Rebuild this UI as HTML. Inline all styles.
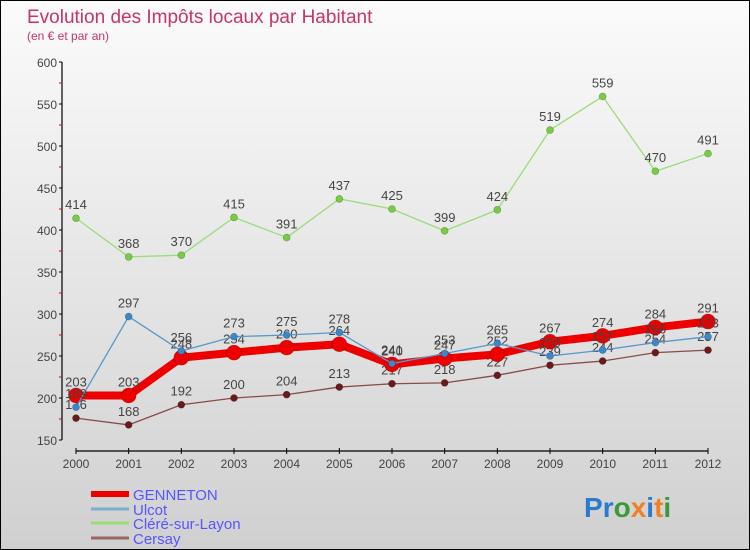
<!DOCTYPE html>
<html><head><meta charset="utf-8"><style>
html,body{margin:0;padding:0}
body{width:750px;height:550px;overflow:hidden;font-family:"Liberation Sans",sans-serif}
#wrap{position:relative;width:748px;height:548px;border:1px solid #000;background:linear-gradient(#fbfbfb,#d0d0d0)}
</style></head><body>
<div id="wrap">
<svg id="chart" width="748" height="548" style="position:absolute;left:0;top:0">
<text x="26" y="22" font-size="19" fill="#c8336a">Evolution des Impôts locaux par Habitant</text>
<text x="26" y="39" font-size="12" fill="#c8336a">(en € et par an)</text>
<g id="axes"></g><g id="series"></g>
<g id="legend" font-size="15" fill="#5555ff"></g>
<text x="583" y="516" font-size="28" font-weight="bold" font-family="Liberation Sans, sans-serif"><tspan fill="#2a7bd0">P</tspan><tspan fill="#2a7bd0">r</tspan><tspan fill="#3a9a3a">o</tspan><tspan fill="#f08020">x</tspan><tspan fill="#2a7bd0">i</tspan><tspan fill="#f08020">t</tspan><tspan fill="#3a9a3a">i</tspan></text>
</svg>
</div>
<script>
const years=[2000,2001,2002,2003,2004,2005,2006,2007,2008,2009,2010,2011,2012];
const genneton=[203,203,248,254,260,264,240,247,252,267,274,284,291];
const ulcot=[189,297,256,273,275,278,241,253,265,250,257,266,273];
const clere=[414,368,370,415,391,437,425,399,424,519,559,470,491];
const cersay=[176,168,192,200,204,213,217,218,227,239,244,254,257];
const yTicks=[150,200,250,300,350,400,450,500,550,600];
const NS="http://www.w3.org/2000/svg";
function X(i){return 75+i*(707-75)/(years.length-1);}
function Y(v){return 439-(v-150)*(439-61)/450;}
function mk(t,a,p){const e=document.createElementNS(NS,t);for(const k in a)e.setAttribute(k,a[k]);p.appendChild(e);return e;}
const ax=document.getElementById('axes');
let l=mk('line',{x1:61,y1:61,x2:61,y2:439,stroke:'#000','stroke-width':1.2},ax);


yTicks.forEach((v,i)=>{
 mk('line',{x1:58,y1:Y(v),x2:61,y2:Y(v),stroke:'#000'},ax);
 if(i<yTicks.length-1) mk('line',{x1:58,y1:Y(v+25),x2:61,y2:Y(v+25),stroke:'#e00'},ax);
 const t=mk('text',{x:56,y:Y(v)+5,'text-anchor':'end','font-size':12,fill:'#444'},ax);t.textContent=v;
 
 
});
l=mk('line',{x1:75,y1:450,x2:707,y2:450,stroke:'#000','stroke-width':1.2},ax);


years.forEach((y,i)=>{
 mk('line',{x1:X(i),y1:447,x2:X(i),y2:453,stroke:'#000'},ax);
 const t=mk('text',{x:X(i),y:467,'text-anchor':'middle','font-size':12,fill:'#444'},ax);t.textContent=y;
 
 
});
const S=document.getElementById('series');
function series(data,color,w,r,name,dot){
 const g=mk('g',{},S);
 
 
 mk('polyline',{points:data.map((v,i)=>X(i)+','+Y(v)).join(' '),fill:'none',stroke:color,'stroke-width':w,'stroke-linejoin':'round'},g);
 data.forEach((v,i)=>{
  const c=mk('circle',{cx:X(i),cy:Y(v),r:r,fill:dot,stroke:'rgba(0,0,0,0.3)','stroke-width':0.6},g);
  
  
  const t=mk('text',{x:X(i),y:Y(v)-9,'text-anchor':'middle','font-size':13,fill:'#444'},g);t.textContent=v;
  
  
 });
}
series(clere,'#99dd77',1.3,3.5,'clere-sur-layon','#77cc44');
series(cersay,'#8b4a4a',1.3,3.5,'cersay','#6a1a1a');
series(genneton,'#ee0000',8,7.5,'genneton','#ee0000');
series(ulcot,'#5599cc',1.3,3.5,'ulcot','#3a88cc');
const lg=document.getElementById('legend');
const names=['GENNETON','Ulcot','Cléré-sur-Layon','Cersay'];
const cols=['#ee0000','#7aaed0','#99dd77','#996666'];
const ws=[6,3,3,3];const ys=[493,508,522,537];
names.forEach((n,i)=>{
 const ln=mk('line',{x1:90,y1:ys[i],x2:128,y2:ys[i],stroke:cols[i],'stroke-width':ws[i]},lg);
 
 
 const t=mk('text',{x:132,y:ys[i]+6},lg);t.textContent=n;
 
 
});
</script>
</body></html>
